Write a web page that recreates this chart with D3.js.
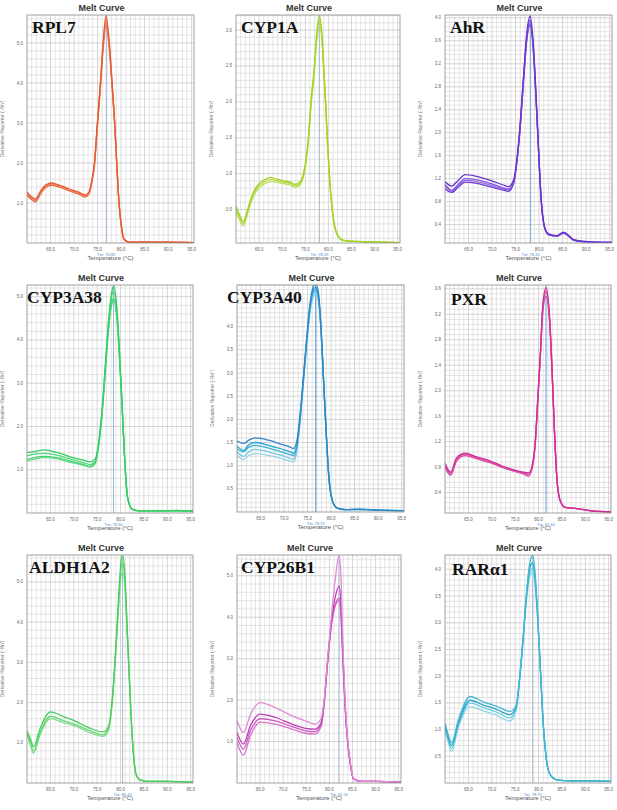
<!DOCTYPE html>
<html lang="en">
<head>
<meta charset="UTF-8">
<title>Melt Curves</title>
<script src="https://d3js.org/d3.v7.min.js"></script>
<style>
  body { margin: 0; background: #fff; }
  svg { display: block; font-family: Arial, "Liberation Sans", sans-serif; }
</style>
</head>
<body>
<svg id="chart" width="617" height="810"></svg>
<script>
// ---- data ----
const X_TICKS = [65, 70, 75, 80, 85, 90, 95];
const GENES = ["RPL7", "CYP1A", "AhR", "CYP3A38", "CYP3A40", "PXR", "ALDH1A2", "CYP26B1", "RARα1"];
const TM = [76.85, 78.05, 78.2, 78.5, 76.75, 81.6, 80.45, 82.1, 78.75];

const RPL7_T = [60, 61, 61.8, 63, 64, 65.3, 67, 69, 71, 72.3, 73.2, 73.8, 74.33, 74.96, 75.6, 76.17, 76.8, 77.5, 78.09, 78.65, 79.08, 79.57, 80.1, 80.6, 81.5, 83, 86, 90, 95.5];
const RPL7_R = [
  [1.28, 1.15, 1.10, 1.32, 1.45, 1.50, 1.44, 1.35, 1.27, 1.20, 1.28, 1.58, 2.0, 3.0, 4.0, 5.0, 5.68, 5.0, 4.0, 3.0, 2.0, 1.0, 0.4, 0.1, 0.03, 0.02, 0.02, 0.02, 0.01],
  [1.24, 1.12, 1.06, 1.28, 1.42, 1.47, 1.41, 1.32, 1.24, 1.17, 1.25, 1.55, 1.96, 2.95, 3.92, 4.9, 5.55, 4.92, 3.95, 2.96, 1.98, 0.98, 0.38, 0.1, 0.03, 0.02, 0.02, 0.02, 0.01],
  [1.20, 1.08, 1.03, 1.25, 1.39, 1.44, 1.39, 1.30, 1.22, 1.15, 1.23, 1.52, 1.93, 2.9, 3.86, 4.82, 5.45, 4.85, 3.9, 2.93, 1.96, 0.97, 0.37, 0.09, 0.03, 0.02, 0.02, 0.01, 0.01],
  [1.26, 1.13, 1.08, 1.30, 1.44, 1.48, 1.42, 1.33, 1.25, 1.18, 1.26, 1.56, 1.98, 2.97, 3.96, 4.95, 5.62, 4.96, 3.97, 2.98, 1.99, 0.99, 0.39, 0.1, 0.03, 0.02, 0.02, 0.02, 0.01]
];
const RPL7_Y = [1, 2, 3, 4, 5];

const CYP1A_T = [60, 60.8, 61.6, 62.5, 63.5, 64.8, 66, 67.4, 69, 70.5, 71.8, 72.8, 73.8, 74.6, 75.2, 75.66, 76.23, 76.96, 77.53, 78.04, 78.54, 78.98, 79.4, 79.77, 80.2, 80.85, 81.8, 83, 85, 90, 95.5];
const CYP1A_R = [
  [0.55, 0.42, 0.33, 0.50, 0.70, 0.85, 0.91, 0.95, 0.92, 0.90, 0.88, 0.85, 0.88, 1.0, 1.22, 1.5, 2.0, 2.5, 3.0, 3.2, 3.0, 2.5, 2.0, 1.5, 1.0, 0.5, 0.17, 0.08, 0.06, 0.05, 0.04],
  [0.50, 0.38, 0.30, 0.47, 0.67, 0.82, 0.88, 0.92, 0.90, 0.88, 0.86, 0.83, 0.86, 0.98, 1.2, 1.47, 1.96, 2.45, 2.94, 3.12, 2.95, 2.47, 1.98, 1.48, 0.99, 0.49, 0.17, 0.08, 0.06, 0.05, 0.04],
  [0.47, 0.35, 0.27, 0.44, 0.64, 0.79, 0.85, 0.89, 0.88, 0.86, 0.84, 0.81, 0.84, 0.96, 1.17, 1.44, 1.93, 2.42, 2.9, 3.05, 2.9, 2.43, 1.95, 1.46, 0.97, 0.48, 0.16, 0.07, 0.06, 0.05, 0.04]
];
const CYP1A_Y = [0.5, 1.0, 1.5, 2.0, 2.5, 3.0];

const AHR_T = [60, 61.4, 62.8, 64.3, 66.7, 69.6, 72.4, 73.5, 74.6, 75.3, 76, 76.7, 77.4, 78.1, 78.8, 79.4, 79.9, 80.45, 81.2, 82, 83.8, 85.2, 86.3, 87.3, 89.5, 95.5];
const AHR_R = [
  [1.15, 1.07, 1.17, 1.27, 1.24, 1.17, 1.09, 1.06, 1.18, 1.55, 2.18, 3.0, 3.75, 4.03, 3.52, 2.58, 1.7, 0.84, 0.35, 0.24, 0.21, 0.27, 0.21, 0.14, 0.11, 0.09],
  [1.1, 1.0, 1.1, 1.2, 1.18, 1.12, 1.04, 1.02, 1.15, 1.52, 2.14, 2.95, 3.68, 3.96, 3.46, 2.54, 1.68, 0.83, 0.34, 0.23, 0.2, 0.26, 0.2, 0.14, 0.11, 0.09],
  [1.02, 0.96, 1.05, 1.14, 1.12, 1.06, 1.0, 0.98, 1.12, 1.5, 2.1, 2.9, 3.62, 3.88, 3.4, 2.5, 1.66, 0.82, 0.34, 0.22, 0.2, 0.25, 0.2, 0.13, 0.1, 0.09],
  [1.07, 0.98, 1.08, 1.17, 1.15, 1.09, 1.02, 1.0, 1.13, 1.51, 2.12, 2.92, 3.65, 3.92, 3.43, 2.52, 1.67, 0.82, 0.34, 0.23, 0.2, 0.26, 0.2, 0.13, 0.1, 0.09]
];
const AHR_Y = [0.4, 0.8, 1.2, 1.6, 2.0, 2.4, 2.8, 3.2, 3.6, 4.0];

const CYP3A38_T = [60, 61.5, 63.6, 66.4, 69.3, 72.1, 73.5, 74.6, 75.3, 76, 76.75, 77.46, 78.2, 78.5, 79.2, 79.8, 80.4, 80.95, 81.5, 82.45, 84, 88, 92, 95.5];
const CYP3A38_R = [
  [1.4, 1.42, 1.46, 1.4, 1.3, 1.22, 1.18, 1.25, 1.62, 2.32, 3.42, 4.48, 5.15, 5.25, 4.78, 3.7, 2.38, 1.15, 0.38, 0.09, 0.05, 0.05, 0.06, 0.04],
  [1.32, 1.36, 1.38, 1.34, 1.25, 1.16, 1.12, 1.2, 1.58, 2.28, 3.36, 4.4, 5.05, 5.12, 4.68, 3.64, 2.34, 1.13, 0.37, 0.09, 0.05, 0.05, 0.05, 0.04],
  [1.24, 1.28, 1.31, 1.28, 1.2, 1.12, 1.08, 1.16, 1.55, 2.24, 3.3, 4.3, 4.9, 4.96, 4.55, 3.56, 2.3, 1.11, 0.36, 0.09, 0.05, 0.05, 0.05, 0.04],
  [1.2, 1.24, 1.28, 1.25, 1.17, 1.1, 1.06, 1.14, 1.53, 2.2, 3.25, 4.25, 4.85, 4.9, 4.5, 3.52, 2.28, 1.1, 0.36, 0.09, 0.05, 0.05, 0.05, 0.04]
];
const CYP3A38_Y = [1, 2, 3, 4, 5];

const CYP3A40_T = [60, 61.4, 62.5, 63.9, 66.7, 69.5, 71.3, 72, 72.7, 73.4, 74.1, 74.8, 75.5, 76.2, 76.7, 77.3, 77.85, 78.4, 79, 79.5, 80.25, 81.2, 83, 86, 90, 95.5];
const CYP3A40_R = [
  [1.53, 1.48, 1.55, 1.6, 1.55, 1.46, 1.4, 1.37, 1.52, 2.1, 2.9, 3.75, 4.48, 4.86, 4.92, 4.74, 4.03, 2.88, 1.66, 0.8, 0.26, 0.09, 0.05, 0.06, 0.04, 0.03],
  [1.42, 1.33, 1.45, 1.5, 1.44, 1.36, 1.3, 1.27, 1.44, 2.04, 2.86, 3.7, 4.42, 4.8, 4.85, 4.68, 3.98, 2.85, 1.64, 0.79, 0.25, 0.09, 0.05, 0.06, 0.04, 0.03],
  [1.36, 1.3, 1.4, 1.44, 1.38, 1.3, 1.24, 1.22, 1.4, 2.0, 2.82, 3.66, 4.38, 4.75, 4.8, 4.63, 3.95, 2.83, 1.63, 0.78, 0.25, 0.09, 0.05, 0.05, 0.04, 0.03],
  [1.3, 1.2, 1.3, 1.35, 1.3, 1.22, 1.16, 1.14, 1.34, 1.96, 2.78, 3.62, 4.33, 4.7, 4.76, 4.6, 3.92, 2.8, 1.62, 0.78, 0.25, 0.09, 0.05, 0.05, 0.04, 0.03],
  [1.22, 1.13, 1.22, 1.26, 1.22, 1.15, 1.1, 1.08, 1.28, 1.92, 2.75, 3.58, 4.28, 4.64, 4.7, 4.55, 3.88, 2.78, 1.6, 0.77, 0.25, 0.09, 0.05, 0.05, 0.04, 0.03]
];
const CYP3A40_Y = [0.5, 1.0, 1.5, 2.0, 2.5, 3.0, 3.5, 4.0];

const PXR_T = [60, 61.2, 62.5, 64.3, 66.8, 69.6, 72.5, 74.6, 76.8, 77.9, 78.8, 79.3, 79.8, 80.4, 80.9, 81.6, 82.4, 82.9, 83.4, 83.9, 84.6, 85.7, 88.2, 91.8, 95.5];
const PXR_R = [
  [0.86, 0.72, 0.95, 1.02, 0.96, 0.9, 0.81, 0.76, 0.72, 0.71, 0.88, 1.2, 1.82, 2.6, 3.33, 3.62, 3.12, 2.33, 1.39, 0.66, 0.28, 0.17, 0.15, 0.11, 0.1],
  [0.83, 0.69, 0.92, 1.0, 0.94, 0.88, 0.8, 0.75, 0.7, 0.68, 0.86, 1.18, 1.8, 2.57, 3.28, 3.55, 3.08, 2.3, 1.38, 0.65, 0.28, 0.17, 0.15, 0.11, 0.1],
  [0.8, 0.67, 0.9, 0.98, 0.93, 0.87, 0.79, 0.74, 0.69, 0.66, 0.84, 1.16, 1.78, 2.54, 3.22, 3.48, 3.04, 2.28, 1.37, 0.65, 0.28, 0.17, 0.15, 0.11, 0.1],
  [0.84, 0.7, 0.93, 1.01, 0.95, 0.89, 0.8, 0.74, 0.71, 0.69, 0.87, 1.19, 1.81, 2.58, 3.3, 3.58, 3.1, 2.32, 1.38, 0.65, 0.28, 0.17, 0.15, 0.11, 0.1]
];
const PXR_Y = [0.4, 0.8, 1.2, 1.6, 2.0, 2.4, 2.8, 3.2, 3.6];

const ALDH1A2_T = [60, 60.7, 61.4, 62.8, 65, 67.8, 70.65, 73.5, 76.3, 77.4, 78.1, 78.8, 79.5, 80.1, 80.45, 80.95, 81.5, 82, 82.6, 83.3, 84.15, 86, 90, 95.5];
const ALDH1A2_R = [
  [1.3, 1.1, 0.9, 1.35, 1.77, 1.65, 1.52, 1.36, 1.27, 1.4, 1.92, 3.0, 4.42, 5.5, 5.66, 5.15, 3.65, 2.32, 0.99, 0.23, 0.08, 0.04, 0.04, 0.02],
  [1.26, 1.0, 0.8, 1.25, 1.66, 1.55, 1.44, 1.3, 1.2, 1.34, 1.87, 2.95, 4.32, 5.32, 5.48, 5.0, 3.6, 2.3, 0.98, 0.23, 0.08, 0.04, 0.04, 0.02],
  [1.22, 0.95, 0.74, 1.2, 1.6, 1.5, 1.4, 1.25, 1.16, 1.3, 1.84, 2.9, 4.2, 5.12, 5.25, 4.85, 3.55, 2.28, 0.97, 0.22, 0.08, 0.04, 0.04, 0.02]
];
const ALDH1A2_Y = [1, 2, 3, 4, 5];

const CYP26B1_T = [60, 61.4, 62.9, 65, 68.3, 71.9, 74.8, 76.9, 78.2, 78.9, 79.65, 80.5, 81.3, 82.1, 82.5, 82.75, 83.04, 83.4, 84.0, 84.6, 85.2, 87, 90, 95.5];
const CYP26B1_R = [
  [1.5, 1.22, 1.65, 1.94, 1.82, 1.62, 1.5, 1.42, 1.55, 2.05, 3.05, 4.1, 4.95, 5.5, 5.0, 4.0, 3.0, 2.0, 1.0, 0.45, 0.1, 0.04, 0.04, 0.02],
  [1.22, 0.94, 1.38, 1.66, 1.58, 1.42, 1.32, 1.3, 1.45, 2.0, 3.0, 3.95, 4.5, 4.75, 4.35, 3.6, 2.8, 1.9, 0.95, 0.42, 0.1, 0.04, 0.04, 0.02],
  [1.1, 0.82, 1.26, 1.55, 1.5, 1.36, 1.26, 1.24, 1.4, 1.97, 2.97, 3.9, 4.32, 4.46, 4.1, 3.45, 2.7, 1.85, 0.93, 0.41, 0.1, 0.04, 0.04, 0.02],
  [0.98, 0.67, 1.14, 1.47, 1.42, 1.3, 1.2, 1.18, 1.36, 1.95, 2.95, 3.85, 4.28, 4.4, 4.05, 3.4, 2.65, 1.82, 0.92, 0.4, 0.1, 0.04, 0.04, 0.02]
];
const CYP26B1_Y = [1, 2, 3, 4, 5];

const RARA1_T = [60, 60.7, 61.4, 62.85, 65.35, 68.2, 71, 73.9, 75.2, 76, 76.75, 77.46, 78.2, 78.75, 79.2, 79.8, 80.45, 81, 81.7, 82.45, 83.9, 87, 91, 95.5];
const RARA1_R = [
  [1.12, 0.9, 0.75, 1.18, 1.62, 1.52, 1.44, 1.34, 1.45, 2.02, 2.78, 3.6, 4.15, 4.26, 4.0, 3.2, 2.06, 1.13, 0.44, 0.16, 0.06, 0.04, 0.04, 0.03],
  [1.08, 0.85, 0.7, 1.12, 1.55, 1.46, 1.38, 1.28, 1.42, 2.0, 2.75, 3.55, 4.05, 4.12, 3.9, 3.15, 2.04, 1.12, 0.44, 0.16, 0.06, 0.04, 0.04, 0.03],
  [1.04, 0.8, 0.65, 1.08, 1.5, 1.41, 1.33, 1.22, 1.38, 1.98, 2.72, 3.5, 3.95, 4.02, 3.82, 3.1, 2.02, 1.11, 0.43, 0.16, 0.06, 0.04, 0.04, 0.03],
  [1.0, 0.76, 0.59, 1.04, 1.43, 1.35, 1.27, 1.16, 1.35, 1.96, 2.7, 3.45, 3.88, 3.95, 3.78, 3.08, 2.0, 1.1, 0.43, 0.16, 0.06, 0.04, 0.04, 0.03]
];
const RARA1_Y = [0.5, 1.0, 1.5, 2.0, 2.5, 3.0, 3.5, 4.0];

// y-axis range shown in each panel [min, max]
const Y_RANGE = [[0, 5.7], [0.035, 3.21], [0.08, 4.05], [0, 5.27], [0, 4.9], [0.08, 3.66], [0, 5.67], [0, 5.5], [0, 4.27]];
const MINOR_STEP = [0.2, 0.1, 0.08, 0.2, 0.1, 0.08, 0.2, 0.2, 0.1];

// ---- layout / styling ----
const boxes = [
  [27, 194, 15, 243], [236, 400, 15, 243], [445, 612, 15, 243],
  [27, 193, 285, 513], [237, 404, 285, 512], [445, 611, 285, 513],
  [27, 193, 555, 783], [237, 401, 555, 783], [445, 611, 555, 783]
];
const labelDx = [5, 5, 5, 0, -10, 6, 2, 4, 7];
const labelDy = [18, 18, 18, 18, 18, 20, 18, 18, 20];
const palettes = [
  ["#e65a32", "#ee8464", "#e86a46", "#f29a82"],
  ["#a2d220", "#b4da48", "#c0de66"],
  ["#6634cc", "#8656de", "#7040d6", "#966ce4"],
  ["#36cc64", "#50d67c", "#42d270", "#6adc8e"],
  ["#3484c4", "#24a4d6", "#3aafda", "#72c8de", "#94d4e4"],
  ["#d02c96", "#dc5aac", "#d446a2", "#e484c0"],
  ["#46cc5a", "#6ad87a", "#82dc92"],
  ["#e28ad4", "#bc3cb4", "#cc5cc4", "#d474c8"],
  ["#42b8d4", "#2aa4c8", "#6accdf", "#8ad8e6"]
];
const tmColor = ["#9cb8d4", "#a8bcd0", "#7fb0d0", "#9cb8d4", "#4a8cd0", "#6a9ad8", "#a8bcd0", "#a8b8d8", "#a8bcd0"];

const temps = [RPL7_T, CYP1A_T, AHR_T, CYP3A38_T, CYP3A40_T, PXR_T, ALDH1A2_T, CYP26B1_T, RARA1_T];
const reps = [RPL7_R, CYP1A_R, AHR_R, CYP3A38_R, CYP3A40_R, PXR_R, ALDH1A2_R, CYP26B1_R, RARA1_R];
const yTicks = [RPL7_Y, CYP1A_Y, AHR_Y, CYP3A38_Y, CYP3A40_Y, PXR_Y, ALDH1A2_Y, CYP26B1_Y, RARA1_Y];

const svg = d3.select("#chart");
svg.append("rect").attr("width", 617).attr("height", 810).attr("fill", "#fff");
const fmt = d3.format(".1f");

GENES.forEach((gene, i) => {
  const [x0, x1, y0, y1] = boxes[i];
  const x = d3.scaleLinear().domain([60, 95.5]).range([x0, x1]);
  const y = d3.scaleLinear().domain(Y_RANGE[i]).range([y1, y0]);
  const g = svg.append("g");
  const cx = (x0 + x1) / 2;

  g.append("text")
    .attr("x", cx - 9).attr("y", y0 - 4.5)
    .attr("text-anchor", "middle")
    .attr("font-size", 9).attr("font-weight", "bold").attr("fill", "#333")
    .text("Melt Curve");

  // grid: every 1 °C and every minor step of the y scale
  const vLines = d3.range(61, 96, 1);
  g.selectAll(".vg").data(vLines).join("line")
    .attr("x1", d => x(d)).attr("x2", d => x(d))
    .attr("y1", y0).attr("y2", y1)
    .attr("stroke", d => d % 5 === 0 ? "#b8b8b8" : "#d4d4d4").attr("stroke-width", 0.6);
  const step = MINOR_STEP[i];
  const hLines = d3.range(Math.ceil(Y_RANGE[i][0] / step), Math.floor(Y_RANGE[i][1] / step) + 1)
    .map(k => k * step).filter(v => v > Y_RANGE[i][0]);
  g.selectAll(".hg").data(hLines).join("line")
    .attr("x1", x0).attr("x2", x1)
    .attr("y1", d => y(d)).attr("y2", d => y(d))
    .attr("stroke", d => yTicks[i].some(t => Math.abs(t - d) < 1e-6) ? "#b8b8b8" : "#d4d4d4")
    .attr("stroke-width", 0.6);

  // Tm marker
  g.append("line")
    .attr("x1", x(TM[i])).attr("x2", x(TM[i]))
    .attr("y1", y0).attr("y2", y1)
    .attr("stroke", tmColor[i]).attr("stroke-width", 1);

  // curves
  const clipId = "clip" + i;
  svg.append("clipPath").attr("id", clipId)
    .append("rect").attr("x", x0).attr("y", y0).attr("width", x1 - x0).attr("height", y1 - y0);
  const line = d3.line()
    .x((d, k) => x(temps[i][k]))
    .y(d => y(d))
    .curve(d3.curveMonotoneX);
  g.append("g").attr("clip-path", `url(#${clipId})`)
    .selectAll("path").data(reps[i].slice().reverse()).join("path")
    .attr("d", line)
    .attr("fill", "none")
    .attr("stroke", (d, k) => palettes[i][reps[i].length - 1 - k])
    .attr("stroke-width", 1.3);

  // frame
  g.append("rect")
    .attr("x", x0).attr("y", y0).attr("width", x1 - x0).attr("height", y1 - y0)
    .attr("fill", "none").attr("stroke", "#8a8a8a").attr("stroke-width", 0.8);

  // axes text
  g.selectAll(".yt").data(yTicks[i]).join("text")
    .attr("x", x0 - 4).attr("y", d => y(d) + 1.5)
    .attr("text-anchor", "end").attr("font-size", 4.5).attr("fill", "#666")
    .text(fmt);
  g.selectAll(".xt").data(X_TICKS).join("text")
    .attr("x", d => x(d)).attr("y", y1 + 8)
    .attr("text-anchor", "middle").attr("font-size", 4.5).attr("fill", "#666")
    .text(fmt);
  g.append("text")
    .attr("x", x(TM[i])).attr("y", y1 + 12.5)
    .attr("text-anchor", "middle").attr("font-size", 4).attr("fill", "#4a8ad0")
    .text("Tm: " + TM[i].toFixed(2));
  g.append("text")
    .attr("x", cx).attr("y", y1 + 17)
    .attr("text-anchor", "middle").attr("font-size", 6).attr("fill", "#555")
    .text("Temperature (°C)");
  g.append("text")
    .attr("transform", `translate(${x0 - 23},${(y0 + y1) / 2}) rotate(-90)`)
    .attr("text-anchor", "middle").attr("font-size", 5).attr("fill", "#777")
    .text("Derivative Reporter (-Rn')");

  // gene label
  g.append("text")
    .attr("x", x0 + labelDx[i]).attr("y", y0 + labelDy[i])
    .attr("font-family", "'Liberation Serif', 'Times New Roman', serif")
    .attr("font-weight", "bold").attr("font-size", 17.5).attr("fill", "#111")
    .text(gene);
});
</script>
</body>
</html>
